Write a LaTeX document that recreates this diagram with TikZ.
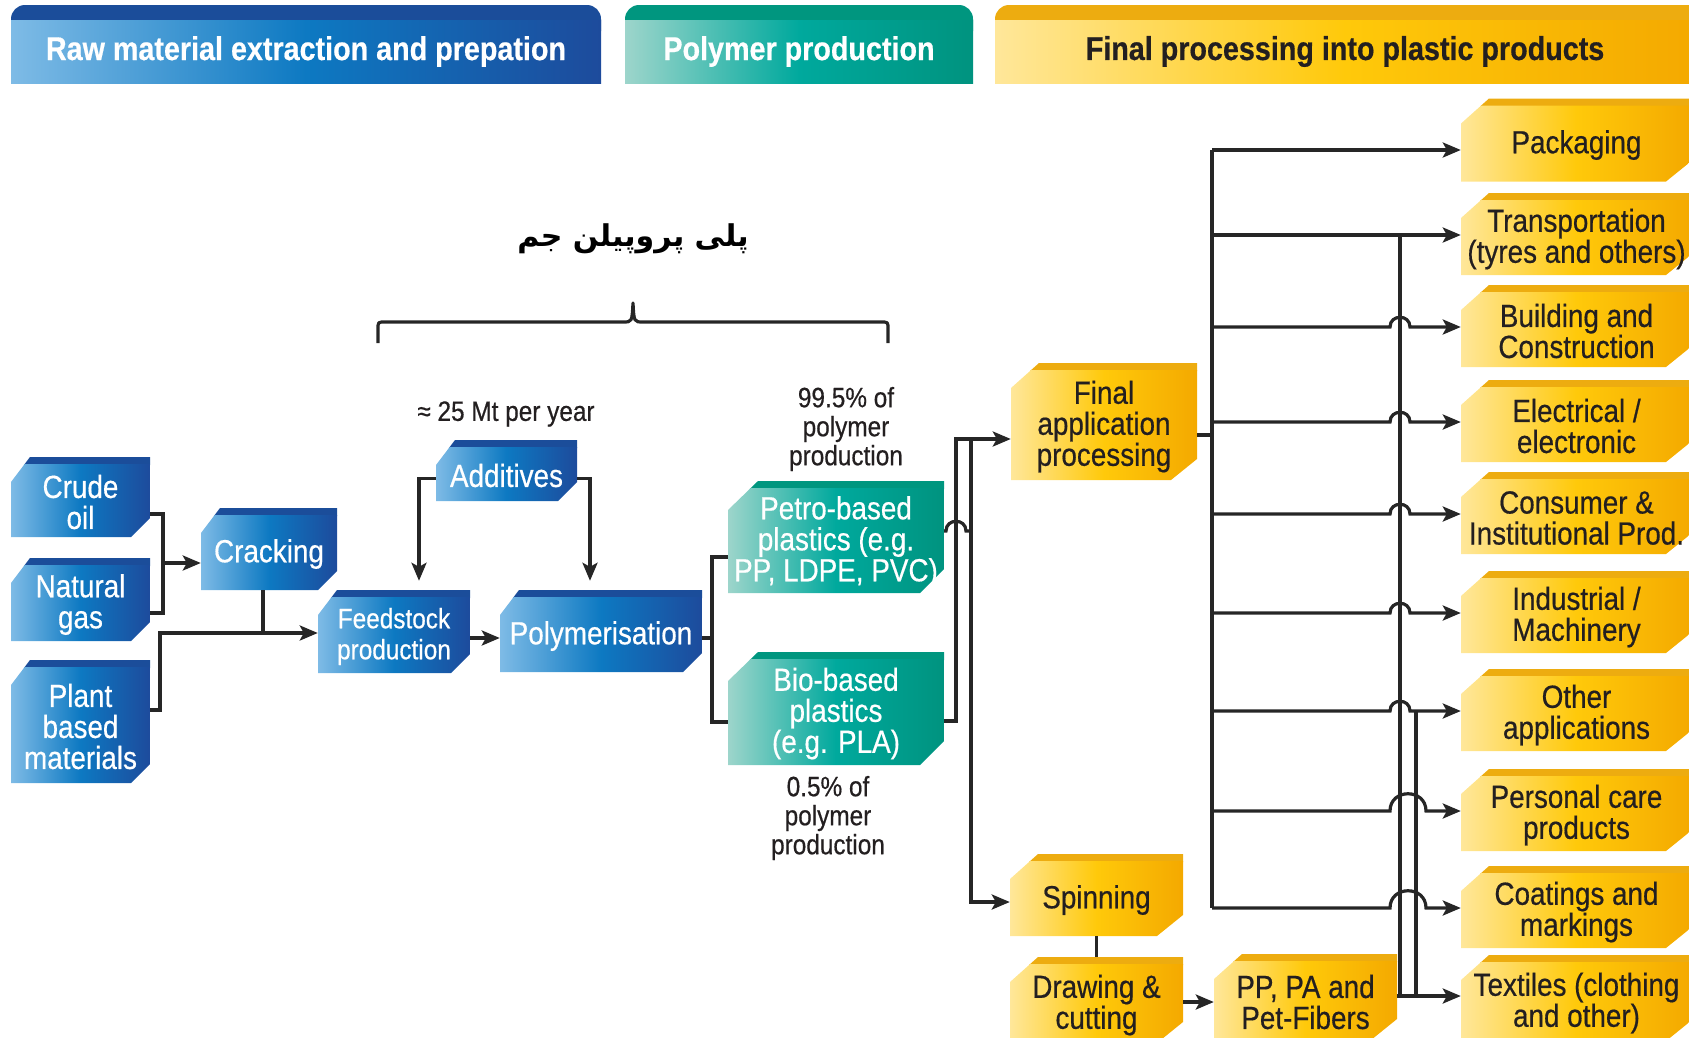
\documentclass[tikz,border=0pt]{standalone}
\usepackage{fontspec}
\setmainfont{Liberation Sans}[FakeStretch=0.87, FakeBold=0.5]
\newfontfamily\persianfont[Script=Arabic]{DejaVu Sans}
\TeXXeTstate=1
\usetikzlibrary{arrows.meta}

\definecolor{blueL}{HTML}{7EBBE6}
\definecolor{blueM}{HTML}{0D79C2}
\definecolor{blueR}{HTML}{1D4B9C}
\definecolor{blueD}{HTML}{1B4D9A}
\definecolor{tealL}{HTML}{9DD5CB}
\definecolor{tealM}{HTML}{00A99D}
\definecolor{tealR}{HTML}{00937F}
\definecolor{tealD}{HTML}{00967F}
\definecolor{yelL}{HTML}{FFE79A}
\definecolor{yelM}{HTML}{FFC90A}
\definecolor{yelR}{HTML}{F4A900}
\definecolor{yelD}{HTML}{EDAC10}
\definecolor{ink}{HTML}{231F20}
\definecolor{linec}{HTML}{262626}

% stage box: dark top strip, cut corners, 10pt empty foot (keeps the text a bit low)
\newcommand{\boxdeco}[6]{%
  \coordinate (bnw) at (path picture bounding box.north west);
  \coordinate (bne) at (path picture bounding box.north east);
  \coordinate (bse) at (path picture bounding box.south east);
  \coordinate (bsw) at (path picture bounding box.south west);
  \fill[#1] ([xshift=#2pt]bnw) -- (bne) -- ([yshift=-8pt]bne) -- ([xshift={#2-#2*8/#3}, yshift=-8pt]bnw) -- cycle;
  \shade[#6] ([yshift=-#3pt]bnw) -- ([xshift={#2-#2*7/#3}, yshift=-7pt]bnw) -- ([yshift=-7pt]bne)
    -- ([yshift={10+#5}]bse) -- ([shift={(-#4pt,10pt)}]bse) -- ([yshift=10pt]bsw) -- cycle;
}

\tikzset{
  wh/.style 2 args={minimum width=#1pt, minimum height=#2pt+10pt},
  stage/.style={rectangle, inner sep=0pt, align=center, font=\fontsize{32}{31}\selectfont},
  bluebox/.style={stage, text=white,
    path picture={\boxdeco{blueD}{19}{25}{19}{19}{left color=blueL, right color=blueR, middle color=blueM}}},
  tealbox/.style={stage, text=white,
    path picture={\boxdeco{tealD}{30}{29}{24}{24}{left color=tealL, right color=tealR, middle color=tealM}}},
  yelbox/.style={stage, text=ink,
    path picture={\boxdeco{yelD}{28}{25}{26}{21}{left color=yelL, right color=yelR, middle color=yelM}}},
  hdr/.style={rectangle, inner sep=0pt, minimum width=#1pt, minimum height=63pt, font=\bfseries\fontsize{33}{36}\selectfont},
}

\begin{document}
\begin{tikzpicture}[x=1pt, y=-1pt,
    conn/.style={draw=linec, line width=3.2pt},
    arr/.style={conn, -{Stealth[length=18pt, width=15pt, inset=4pt]}},
    note/.style={text=ink, align=center, font=\fontsize{28}{29}\selectfont}]
  \path[use as bounding box] (0,0) rectangle (1689,1037);
  \clip (0,0) rectangle (1689,1037);

  % headers
  \fill[blueD, rounded corners=14pt] (11,5) rectangle (601,45);
  \node[hdr=590, left color=blueL, right color=blueR, middle color=blueM, text=white] (hraw) at (306,51.5) {Raw material extraction and prepation};
  \fill[tealD, rounded corners=14pt] (625,5) rectangle (973,45);
  \node[hdr=348, left color=tealL, right color=tealR, middle color=tealM, text=white] (hpoly) at (799,51.5) {Polymer production};
  \fill[yelD, rounded corners=14pt] (995,5) rectangle (1710,45);
  \node[hdr=700, left color=yelL, right color=yelR, middle color=yelM, text=ink] (hfin) at (1345,51.5) {Final processing into plastic products};

  \node[font=\persianfont\bfseries\fontsize{30}{36}\selectfont] (title) at (633,239) {\beginR پلی پروپیلن جم\endR};
  \draw[conn, line join=round] (378,343) -- (378,329) .. controls (378,322) .. (385,322) -- (623,322) .. controls (632,322) .. (633,303) .. controls (634,322) .. (643,322) -- (881,322) .. controls (888,322) .. (888,329) -- (888,343);

  % raw materials
  \node[bluebox, wh={139}{80}] (crude) at (80.5,502) {Crude\\oil};
  \node[bluebox, wh={139}{83}] (gas) at (80.5,604.5) {Natural\\gas};
  \node[bluebox, wh={139}{123}] (plant) at (80.5,726.5) {Plant\\based\\materials};
  \node[bluebox, wh={136}{82}] (crack) at (269,554) {Cracking};
  \node[bluebox, wh={141}{61}] (addit) at (506.5,475.5) {Additives};
  \node[bluebox, wh={152}{83}, font=\fontsize{28}{31}\selectfont] (feed) at (394,636.5) {Feedstock\\production};
  \node[bluebox, wh={202}{82}] (poly) at (601,636) {Polymerisation};
  \node[note] (rate) at (506,414) {≈ 25 Mt per year};

  % polymers
  \node[tealbox, wh={216}{112}] (petro) at (836,542) {Petro-based\\plastics (e.g.\\PP, LDPE, PVC)};
  \node[tealbox, wh={216}{113}] (bio) at (836,713.5) {Bio-based\\plastics\\(e.g. PLA)};
  \node[note] (share1) at (846,429) {99.5\% of\\polymer\\production};
  \node[note] (share2) at (828,818) {0.5\% of\\polymer\\production};

  % final processing
  \node[yelbox, wh={186}{117}] (finapp) at (1104,426.5) {Final\\application\\processing};
  \node[yelbox, wh={173}{82}] (spin) at (1096.5,900) {Spinning};
  \node[yelbox, wh={173}{86}] (drawc) at (1096.5,1005) {Drawing \&\\cutting};
  \node[yelbox, wh={183}{86}] (fibers) at (1305.5,1002) {PP, PA and\\Pet-Fibers};

  \node[yelbox, wh={231}{83}] (pack) at (1576.5,145) {Packaging};
  \node[yelbox, wh={231}{82}] (trans) at (1576.5,239) {Transportation\\(tyres and others)};
  \node[yelbox, wh={231}{82}] (build) at (1576.5,331) {Building and\\Construction};
  \node[yelbox, wh={231}{82}] (elec) at (1576.5,426) {Electrical /\\electronic};
  \node[yelbox, wh={231}{82}] (cons) at (1576.5,518) {Consumer \&\\Institutional Prod.};
  \node[yelbox, wh={231}{82}] (indus) at (1576.5,617) {Industrial /\\Machinery};
  \node[yelbox, wh={231}{82}] (other) at (1576.5,715) {Other\\applications};
  \node[yelbox, wh={231}{82}] (pers) at (1576.5,815) {Personal care\\products};
  \node[yelbox, wh={231}{82}] (coat) at (1576.5,912) {Coatings and\\markings};
  \node[yelbox, wh={231}{86}] (textl) at (1576.5,1003) {Textiles (clothing\\and other)};

  % connectors
  \coordinate (jraw) at (163,563);
  \draw[conn] (crude.east |- 0,514) -| (jraw) |- (gas.east |- 0,613);
  \draw[arr] (jraw) -- (crack.west |- jraw);
  \coordinate (jfeed) at (263,633);
  \draw[conn] (crack.south -| jfeed) ++(0,-10) -- (jfeed);
  \draw[arr] (plant.east |- 0,710) -| (160,633) -- (feed.west |- jfeed);
  \draw[arr] (feed.east |- 0,638) -- (poly.west |- 0,638);
  \draw[arr, shorten >=9pt] ([yshift=-3pt]addit.west) -| ([xshift=25pt]feed.north);
  \draw[arr, shorten >=9pt] ([yshift=-3pt]addit.east) -| ([xshift=-11pt]poly.north);

  \coordinate (jpoly) at (712,638);
  \draw[conn] (poly.east |- jpoly) -- (jpoly);
  \draw[conn] (petro.west |- 0,557) -| (jpoly) |- (bio.west |- 0,722);
  \coordinate (jbio) at (956,439);
  \draw[arr] (bio.east |- 0,721) -| (jbio) -- (finapp.west |- jbio);
  \coordinate (jpet) at (971,439);
  \draw[conn] (petro.east |- 0,531) -- (946,531) .. controls +(0,-13) and +(0,-13) .. (966,531) -- (jpet |- 0,531);
  \draw[arr] (jpet) |- (spin.west |- 0,902);
  \draw[conn] (spin.south) ++(0,-10) -- (drawc.north);
  \draw[arr] (drawc.east |- 0,1002) -- (fibers.west |- 0,1002);

  \coordinate (trunk) at (1212,435);
  \draw[conn] (finapp.east |- trunk) -- (trunk);
  \draw[conn] (trunk |- 0,150) -- (trunk |- 0,908);
  \draw[arr] (trunk |- 0,150) -- (pack.west |- 0,150);
  \draw[arr] (trunk |- 0,235) -- (trans.west |- 0,235);
  \foreach \n in {build,elec,cons,indus,other}{
    \coordinate (tip) at ([yshift=4pt]\n.west);
    \draw[arr] (trunk |- tip) -- (1390,0 |- tip) .. controls +(0,-13) and +(0,-13) .. (1410,0 |- tip) -- (tip);
  }
  \foreach \n in {pers,coat}{
    \coordinate (tip) at ([yshift=4pt]\n.west);
    \draw[arr] (trunk |- tip) -- (1390,0 |- tip) .. controls +(0,-23) and +(0,-23) .. (1426,0 |- tip) -- (tip);
  }
  \coordinate (tip) at ([yshift=4pt]other.west);
  \draw[conn] (1400,235) -- (1400,996);
  \draw[conn] (1416,0 |- tip) -- (1416,996);
  \draw[arr] (fibers.east |- 0,996) -- (textl.west |- 0,996);
\end{tikzpicture}
\end{document}
